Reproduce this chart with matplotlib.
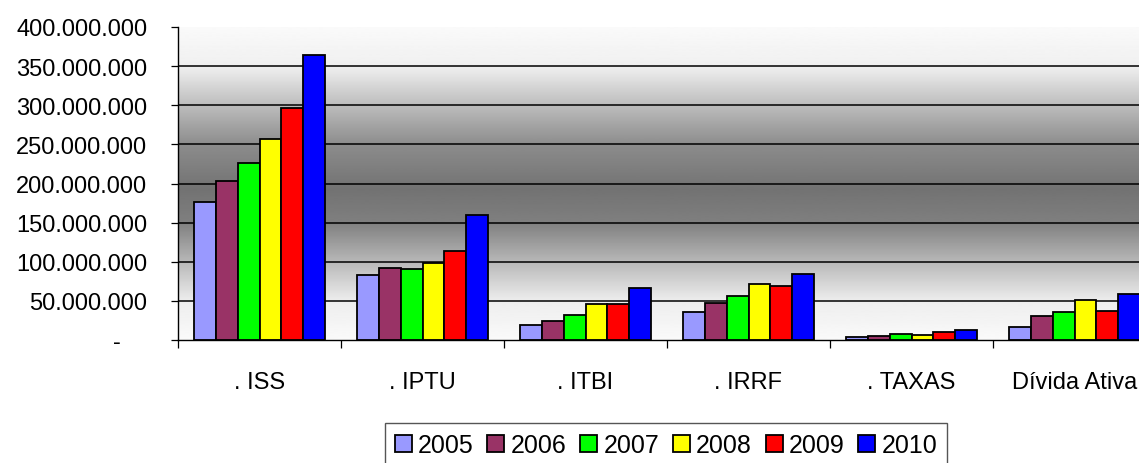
import numpy as np
import matplotlib
matplotlib.use("Agg")
import matplotlib.pyplot as plt
from matplotlib.ticker import FuncFormatter, FixedLocator

plt.rcParams['font.family'] = ['Liberation Sans', 'DejaVu Sans']

# dados (R$)
categorias = ['. ISS', '. IPTU', '. ITBI', '. IRRF', '. TAXAS', 'Dívida Ativa']
anos = ['2005', '2006', '2007', '2008', '2009', '2010']
cores = ['#9999ff', '#993366', '#00ff00', '#ffff00', '#ff0000', '#0000ff']

v2005 = [176e6, 83.5e6, 19.6e6, 35.4e6, 4.3e6, 17.0e6]
v2006 = [203.6e6, 91.6e6, 24.7e6, 47.7e6, 4.7e6, 30.3e6]
v2007 = [226.6e6, 91.2e6, 32.3e6, 55.8e6, 7.3e6, 35.4e6]
v2008 = [257.0e6, 98.4e6, 45.6e6, 71.2e6, 6.4e6, 50.7e6]
v2009 = [296.0e6, 114.0e6, 45.6e6, 68.6e6, 10.2e6, 37.4e6]
v2010 = [364.6e6, 160.0e6, 66.0e6, 84.0e6, 12.8e6, 58.4e6]
series = [v2005, v2006, v2007, v2008, v2009, v2010]

W, H = 1139, 464
fig = plt.figure(figsize=(W / 100, H / 100), dpi=100)
ax = fig.add_axes([178 / W, 123 / H, 978 / W, 313 / H])

# fundo em degradê (claro em cima e embaixo, escuro no meio)
f = np.linspace(0, 1, 400)
pts = [0, 0.125, 0.25, 0.375, 0.48, 0.625, 0.75, 0.875, 1]
val = [0.98, 0.93, 0.72, 0.50, 0.45, 0.55, 0.74, 0.94, 0.98]
grad = np.interp(f, pts, val)[::-1].reshape(-1, 1)
ax.imshow(grad, extent=[0, 1, 0, 1], transform=ax.transAxes, aspect='auto',
          cmap='gray', vmin=0, vmax=1, zorder=0, interpolation='bilinear')

x = np.arange(len(categorias)) + 0.5
w = 0.8 / len(anos)
for j, (ano, vals) in enumerate(zip(anos, series)):
    ax.bar(x + (j - 2.5) * w, vals, width=w, color=cores[j], edgecolor='black',
           linewidth=1.3, label=ano, zorder=3)

ax.set_xlim(0, len(categorias))
ax.set_ylim(0, 400e6)
ax.set_yticks(np.arange(0, 400e6 + 1, 50e6))


def fmt(v, pos):
    if v == 0:
        return '-    '
    return f'{int(v):,}'.replace(',', '.')


ax.yaxis.set_major_formatter(FuncFormatter(fmt))
ax.yaxis.grid(True, color='black', linewidth=1.1, zorder=1)
ax.set_axisbelow(True)
ax.get_ygridlines()[-1].set_visible(False)
ax.get_ygridlines()[0].set_visible(False)
ax.tick_params(axis='y', length=5, width=0.9, pad=17, labelsize=17)

ax.xaxis.set_major_locator(FixedLocator(np.arange(0, len(categorias) + 1)))
ax.xaxis.set_minor_locator(FixedLocator(x))
ax.set_xticklabels([], minor=False)
ax.set_xticklabels(categorias, minor=True)
ax.tick_params(axis='x', which='major', length=6, width=0.9)
ax.tick_params(axis='x', which='minor', length=0, pad=22, labelsize=17)

for s in ['top', 'right']:
    ax.spines[s].set_visible(False)
for s in ['left', 'bottom']:
    ax.spines[s].set_linewidth(1.0)
    ax.spines[s].set_zorder(4)

leg = fig.legend(loc='upper center', bbox_to_anchor=(666 / W, 1 - 424 / H), ncol=6,
                 fontsize=18, handlelength=0.68, handleheight=0.68, handletextpad=0.25,
                 columnspacing=0.55, borderpad=0.4, fancybox=False, framealpha=1,
                 edgecolor='#555555', borderaxespad=0)
leg.get_frame().set_linewidth(1.0)

fig.savefig('out.png', dpi=100)
